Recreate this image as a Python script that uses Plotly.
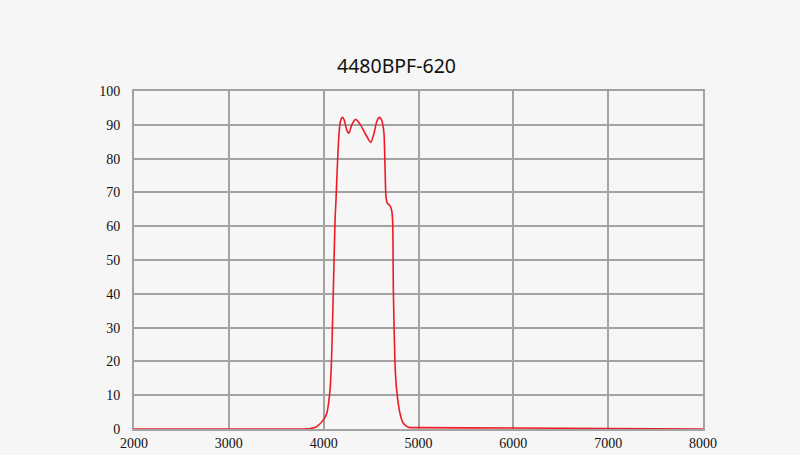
import plotly.graph_objects as go

wavelength = [2000, 2500, 3000, 3500, 3700, 3800, 3856, 3927, 3997, 4032, 4067, 4084, 4102, 4120, 4130,
              4144, 4162, 4176, 4197, 4217, 4243, 4267, 4295, 4337, 4383, 4436, 4496, 4531,
              4559, 4587, 4608, 4621, 4636, 4647, 4657, 4671, 4700, 4716, 4727, 4735, 4752,
              4770, 4805, 4840, 4893, 5000, 6000, 7000, 8000]
transmission = [0.0, 0.0, 0.0, 0.0, 0.0, 0.02, 0.1, 0.7, 2.7, 4.6, 11.5, 21.4, 41.0, 61.8, 67.8,
                77.6, 87.5, 90.9, 92.2, 91.4, 88.5, 87.5, 89.9, 91.6, 90.2, 87.5, 84.8, 87.5,
                90.9, 92.2, 91.6, 90.4, 87.5, 77.6, 68.7, 66.8, 66.0, 64.8, 61.8, 41.0, 19.4,
                11.5, 4.6, 1.7, 0.5, 0.4, 0.3, 0.15, 0.0]

x_ticks = [2000, 3000, 4000, 5000, 6000, 7000, 8000]
y_ticks = [0, 10, 20, 30, 40, 50, 60, 70, 80, 90, 100]
title_text = "4480BPF-620"

bg = "#f6f6f6"
grid = "#a3a3a3"

fig = go.Figure()
fig.add_trace(go.Scatter(
    x=wavelength, y=transmission, mode="lines",
    line=dict(color="#ec1c24", width=1.6, shape="spline", smoothing=0.6),
    hoverinfo="x+y", showlegend=False,
))

fig.update_layout(
    width=800, height=455,
    paper_bgcolor=bg, plot_bgcolor=bg,
    margin=dict(l=134, r=97, t=91, b=26, autoexpand=False),
    title=dict(text=title_text, x=396.5 / 800, xanchor="center", xref="container", y=1 - 66 / 455, yanchor="middle",
               font=dict(family="Noto Sans", size=19.5, color="#111111")),
    xaxis=dict(range=[2000, 8000], tickvals=x_ticks, ticktext=[str(v) for v in x_ticks],
               showgrid=True, gridcolor=grid, gridwidth=2, automargin=False,
               showline=True, linecolor=grid, linewidth=2, mirror=True,
               zeroline=False, ticks="", ticklen=0,
               tickfont=dict(family="Liberation Serif", size=14, color="#111111")),
    yaxis=dict(range=[0, 100], tickvals=y_ticks, ticktext=[str(v) for v in y_ticks],
               showgrid=True, gridcolor=grid, gridwidth=2, automargin=False,
               showline=True, linecolor=grid, linewidth=2, mirror=True,
               zeroline=False, ticks="outside", ticklen=9, tickcolor="rgba(0,0,0,0)",
               tickfont=dict(family="Liberation Serif", size=14, color="#111111")),
)

fig.write_html("out.html", config={"displayModeBar": False},
               post_script="document.body.style.margin='0';document.body.style.overflow='hidden';")
